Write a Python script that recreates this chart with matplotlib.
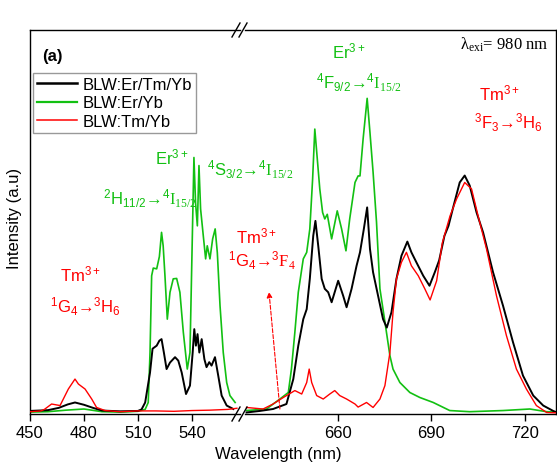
import matplotlib
matplotlib.use("Agg")
import matplotlib.pyplot as plt
from matplotlib.lines import Line2D

plt.rcParams['font.family'] = ['Liberation Sans', 'DejaVu Sans']
plt.rcParams['mathtext.fontset'] = 'custom'
plt.rcParams['mathtext.rm'] = 'Liberation Sans'
plt.rcParams['mathtext.it'] = 'Liberation Sans:italic'
plt.rcParams['mathtext.bf'] = 'Liberation Sans:bold'
plt.rcParams['mathtext.sf'] = 'Liberation Serif'

# ---- data (intensity in arbitrary units) ----
# left segment, 450-567 nm
green_left_nm = [450, 460, 470, 480, 490, 500, 510, 514, 515.7, 516.7, 517.6, 518.5, 520.4, 521.9,
                 523.1, 524, 525, 526.3, 527.8, 529.6, 531.5, 533.3, 535.2, 537.4, 538.9, 540.2,
                 541.1, 542, 543, 543.9, 544.8, 546.3, 547.6, 548.5, 550, 551.5, 552.9, 554.1,
                 555.6, 557.4, 559.3, 561.1, 564]
green_left = [0.5, 0.6, 1.0, 1.3, 0.6, 0.5, 0.7, 1.2, 3, 16, 36, 38, 37.8, 41,
              47.3, 43.8, 36, 24.7, 31.7, 35.2, 35.3, 31.7, 21.3, 11.7, 16, 46,
              66.8, 55, 49, 64.7, 53.4, 46.4, 40.4, 43.8, 40.4, 45.6, 48.2, 42,
              28.2, 16, 8.2, 4.8, 3.0]

black_left_nm = [450, 460, 466, 471, 475, 480, 485, 490, 500, 510, 512, 514, 516.7, 518.1, 520.4,
                 521.9, 523.1, 524.4, 525.9, 527.8, 530.6, 532.4, 534.3, 536.7, 538.9, 540.4,
                 541.3, 542.2, 543.1, 544.1, 545.4, 546.9, 548.1, 549.6, 550.9, 552.8, 554.6,
                 556.5, 559.3, 563]
black_left = [0.8, 1.0, 1.6, 2.5, 3.0, 2.4, 1.6, 0.9, 0.7, 0.8, 1.2, 3, 10.8, 17, 17.8,
              19.1, 19.5, 16, 11.7, 13.4, 14.8, 13.9, 10.8, 5.2, 7.4, 16,
              22.1, 17.8, 20.8, 16, 19.5, 14.3, 12.2, 13.5, 12.6, 14.8, 10,
              4.8, 2.2, 1.3]

red_left_nm = [450, 456, 458, 462, 466.7, 471.3, 475, 476.9, 480.6, 484.3, 487, 491.7, 500, 510,
               520, 530, 540, 550, 560, 565]
red_left = [0.6, 0.8, 1.2, 2.6, 2.2, 6.5, 9.1, 7.8, 6.5, 3.9, 1.7, 0.9, 0.6, 0.8,
            0.8, 0.7, 0.9, 1.0, 1.2, 1.5]

# right segment, 630-730 nm
green_right_nm = [630.7, 637.1, 641.4, 644.1, 645.1, 646.2, 647.3, 648.9, 650, 651, 651.9, 652.6,
                  653.4, 654.2, 655.1, 655.8, 656.6, 658, 659.8, 661.2, 662.6, 663.8, 665.5,
                  666.5, 667.1, 668.1, 669.4, 670.3, 671.3, 672.4, 673.5, 675.1, 676.7, 677.7,
                  679.9, 683.1, 686.3, 690.6, 695.9, 702.3, 713, 721.6, 727, 730]
green_right = [0.9, 1.3, 3.9, 5.6, 11.7, 21.3, 31.7, 40.4, 42.1, 48.2, 61.2, 74.2,
               66.4, 58.6, 52.5, 50.8, 52, 45.6, 52.9, 48.2, 42.5, 50.8, 60.3,
               62, 62, 71.6, 82.2, 73.3, 63, 50, 32.6, 24, 15.2, 11.7,
               8.2, 5.6, 4.3, 3, 0.9, 0.6, 0.9, 1.3, 0.6, 0.5]

black_right_nm = [630.7, 635, 639.2, 643.5, 645.7, 647.3, 648.9, 650, 651, 652.1, 652.8, 653.7,
                  654.8, 655.8, 656.9, 658, 660.1, 661.7, 662.8, 664.4, 666, 667.1, 668.3,
                  669.4, 670.3, 671.3, 672.9, 674.5, 675.7, 677.2, 678.8, 680.4, 682.3, 683.6,
                  685.2, 687.4, 689.4, 691.1, 692.5, 694.2, 695.5, 697, 699.1, 700.7, 702.3,
                  704.5, 706.6, 709.8, 713, 716.2, 719.4, 722.7, 725.9, 729.1, 730]
black_right = [0.4, 0.8, 1.3, 2.6, 9.1, 17.8, 24.7, 27.3, 35.2, 46.4, 50.3, 43.8,
               35.2, 32.6, 31.7, 29.1, 34.7, 30.8, 27.8, 32.6, 38.6, 42.1, 48,
               53.8, 43, 36.9, 30.8, 24.7, 22.5, 26.5, 35.2, 41.2, 44.9, 42.1,
               39.5, 36, 33.4, 36.9, 40, 46.4, 49, 53.8, 60.3, 62.1, 59.5,
               52.5, 47.3, 36.9, 28.2, 18.7, 10, 4.8, 2.2, 0.8, 0.5]

red_right_nm = [630.7, 636, 639.2, 642.5, 646.2, 648.4, 650, 650.8, 651.6, 653.2, 655.3, 657.4,
                659, 660.6, 662.8, 665.5, 666.5, 669.2, 671.3, 673.5, 675.1, 676.7, 677.7,
                678.8, 680.4, 682, 683.6, 685.8, 687.9, 689.6, 691.7, 693.5, 696, 698.1,
                700.7, 702.9, 705, 707.7, 710.9, 714.1, 717.3, 720.5, 723.7, 727, 730]
red_right = [1.7, 1.3, 2.6, 4.3, 6.1, 5.2, 8.2, 11.7, 8.2, 4.8, 3.9, 5.2,
             6.1, 4.8, 3.9, 2.6, 1.8, 3, 1.7, 3.9, 7.4, 16, 26.5,
             35.2, 39.5, 42.1, 38.6, 36, 32.6, 29.7, 34.7, 44.5, 51.6, 56,
             60.3, 58.6, 51.6, 43, 30.8, 20.4, 11.7, 6.5, 2.2, 0.4, 0.3]

left_ticks = [450, 480, 510, 540]
right_ticks = [660, 690, 720]
labels = ["BLW:Er/Tm/Yb", "BLW:Er/Yb", "BLW:Tm/Yb"]
colors = ["black", "#12c012", "red"]

W, H = 557, 464


def fx(px):
    return px / W


def fy(py):
    return 1 - py / H


fig = plt.figure(figsize=(W / 100, H / 100), dpi=100)
ax_l = fig.add_axes([fx(30), fy(415), (240 - 30) / W, (415 - 31) / H])
ax_r = fig.add_axes([fx(245), fy(415), (556 - 245) / W, (415 - 31) / H])

ax_l.plot(black_left_nm, black_left, color=colors[0], lw=1.4, zorder=3)
ax_l.plot(green_left_nm, green_left, color=colors[1], lw=1.2, zorder=2)
ax_l.plot(red_left_nm, red_left, color=colors[2], lw=1.0, zorder=4)
ax_r.plot(black_right_nm, black_right, color=colors[0], lw=1.4, zorder=3)
ax_r.plot(green_right_nm, green_right, color=colors[1], lw=1.2, zorder=2)
ax_r.plot(red_right_nm, red_right, color=colors[2], lw=1.0, zorder=4)

ax_l.set_xlim(450, 566.7)
ax_r.set_xlim(630.2, 730)
for ax in (ax_l, ax_r):
    ax.set_ylim(0, 100)
    ax.set_yticks([])
    ax.tick_params(axis='x', direction='out', length=5, width=1, labelsize=12, pad=3)
    for s in ax.spines.values():
        s.set_linewidth(1.0)
ax_l.set_xticks(left_ticks)
ax_r.set_xticks(right_ticks)
ax_l.spines['right'].set_visible(False)
ax_r.spines['left'].set_visible(False)

# axis break marks
for bx, by in [(236, 31), (243, 31), (236, 415), (243, 415)]:
    fig.add_artist(Line2D([fx(bx - 4), fx(bx + 4)], [fy(by + 7), fy(by - 7)],
                          color='black', lw=1.0))

# legend
handles = [Line2D([], [], color=c, lw=w) for c, w in zip(colors, [1.8, 1.6, 1.1])]
fig.legend(handles, labels, loc='upper left', bbox_to_anchor=(fx(33), fy(74)),
           bbox_transform=fig.transFigure, fontsize=12, frameon=True, fancybox=False,
           edgecolor='#808080', borderpad=0.25, labelspacing=0.2, handlelength=2.4,
           handletextpad=0.3, borderaxespad=0)

fig.text(fx(42), fy(57), "(a)", fontsize=12, fontweight='bold', va='center')
fig.text(fx(549), fy(45), r"λ$_{\mathsf{exi}}$= 980 nm", fontsize=12, ha='right', va='center',
         family='Liberation Serif')

green_txt = colors[1]
fig.text(fx(172), fy(157), r"$\mathrm{Er}^{3+}$", color=green_txt, fontsize=12, ha='center', va='center')
fig.text(fx(103), fy(199), r"$^2\mathrm{H}_{11/2}$→$^4\mathsf{I}_{\mathsf{15/2}}$", color=green_txt,
         fontsize=12, ha='left', va='center')
fig.text(fx(207), fy(170), r"$^4\mathrm{S}_{3/2}$→$^4\mathsf{I}_{\mathsf{15/2}}$", color=green_txt,
         fontsize=12, ha='left', va='center')
fig.text(fx(349), fy(51), r"$\mathrm{Er}^{3+}$", color=green_txt, fontsize=12, ha='center', va='center')
fig.text(fx(359), fy(83), r"$^4\mathrm{F}_{9/2}$→$^4\mathsf{I}_{\mathsf{15/2}}$", color=green_txt,
         fontsize=12, ha='center', va='center')

fig.text(fx(499), fy(93), r"$\mathrm{Tm}^{3+}$", color='red', fontsize=12, ha='center', va='center')
fig.text(fx(508), fy(123), r"$^3\mathrm{F}_3$→$^3\mathrm{H}_6$", color='red', fontsize=12,
         ha='center', va='center')
fig.text(fx(256), fy(236), r"$\mathrm{Tm}^{3+}$", color='red', fontsize=12, ha='center', va='center')
fig.text(fx(262), fy(261), r"$^1\mathrm{G}_4$→$^3\mathsf{F}_{\mathsf{4}}$", color='red', fontsize=12,
         ha='center', va='center')
fig.text(fx(80), fy(274), r"$\mathrm{Tm}^{3+}$", color='red', fontsize=12, ha='center', va='center')
fig.text(fx(85), fy(307), r"$^1\mathrm{G}_4$→$^3\mathrm{H}_6$", color='red', fontsize=12,
         ha='center', va='center')

ax_r.annotate('', xy=(fx(269), fy(293)), xycoords='figure fraction',
              xytext=(641.4, 1.3), textcoords='data',
              arrowprops=dict(arrowstyle='-|>', color='red', lw=0.8, linestyle='--',
                              mutation_scale=8, shrinkA=0, shrinkB=0))

fig.text(fx(278), fy(455), "Wavelength (nm)", fontsize=12, ha='center', va='center')
fig.text(fx(15), fy(218), "Intensity (a.u)", fontsize=12, rotation=90, ha='center', va='center')

fig.savefig("out.png", dpi=100)
